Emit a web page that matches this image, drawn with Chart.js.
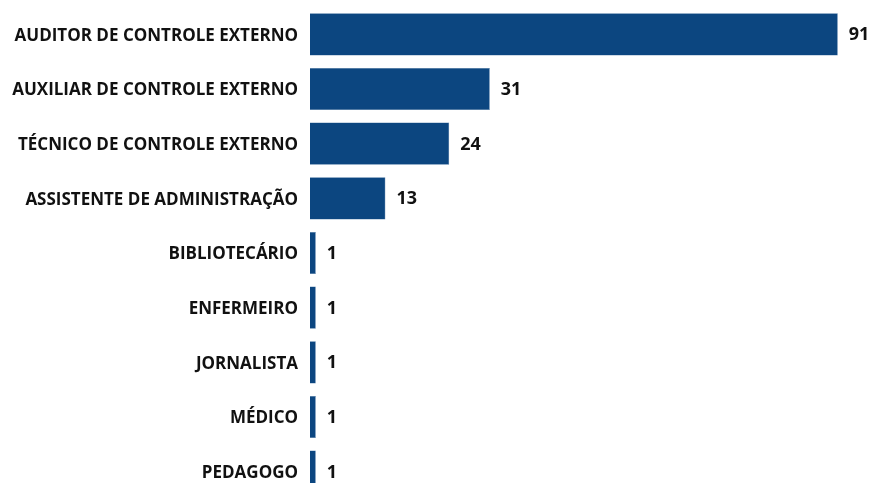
<!DOCTYPE html>
<html>
<head>
<meta charset="utf-8">
<script src="https://cdn.jsdelivr.net/npm/chart.js@4.4.0/dist/chart.umd.min.js"></script>
<style>
    html, body { margin: 0; padding: 0; background: #fff; overflow: hidden; }
    canvas { display: block; }
</style>
</head>
<body>
<canvas id="cargosChart" width="873" height="499"></canvas>
<script>
const categories = [
    'AUDITOR DE CONTROLE EXTERNO',
    'AUXILIAR DE CONTROLE EXTERNO',
    'TÉCNICO DE CONTROLE EXTERNO',
    'ASSISTENTE DE ADMINISTRAÇÃO',
    'BIBLIOTECÁRIO',
    'ENFERMEIRO',
    'JORNALISTA',
    'MÉDICO',
    'PEDAGOGO'
];
const values = [91, 31, 24, 13, 1, 1, 1, 1, 1];

const barColor = '#0c4680';
const fontFamily = '"Open Sans", "Noto Sans", sans-serif';

// value labels at the end of each bar
const valueLabels = {
    id: 'valueLabels',
    afterDatasetsDraw(chart) {
        const ctx = chart.ctx;
        const meta = chart.getDatasetMeta(0);
        ctx.save();
        ctx.font = `bold 18px ${fontFamily}`;
        ctx.fillStyle = '#111';
        ctx.textAlign = 'left';
        ctx.textBaseline = 'middle';
        meta.data.forEach((bar, i) => {
            ctx.fillText(values[i], bar.x + 11, bar.y + 1);
        });
        ctx.restore();
    }
};

const ctx = document.getElementById('cargosChart').getContext('2d');
new Chart(ctx, {
    type: 'bar',
    data: {
        labels: categories,
        datasets: [{
            data: values,
            backgroundColor: barColor,
            borderColor: '#3a6a9a',
            borderWidth: 0.5,
            barPercentage: 0.77,
            categoryPercentage: 1.0
        }]
    },
    options: {
        indexAxis: 'y',
        responsive: false,
        animation: false,
        layout: { padding: { top: 7, right: 12, bottom: 0, left: 0 } },
        plugins: {
            legend: { display: false },
            tooltip: { enabled: false }
        },
        scales: {
            x: {
                display: false,
                min: 0,
                max: 95
            },
            y: {
                grid: { display: false },
                border: { display: false },
                ticks: {
                    color: '#111',
                    padding: 4,
                    labelOffset: 1.5,
                    font: { family: fontFamily, weight: 'bold', size: 17 }
                },
                afterFit(scale) {
                    scale.width = 310;
                    scale.paddingTop = 0;
                    scale.paddingBottom = 0;
                }
            }
        }
    },
    plugins: [valueLabels]
});
</script>
</body>
</html>
